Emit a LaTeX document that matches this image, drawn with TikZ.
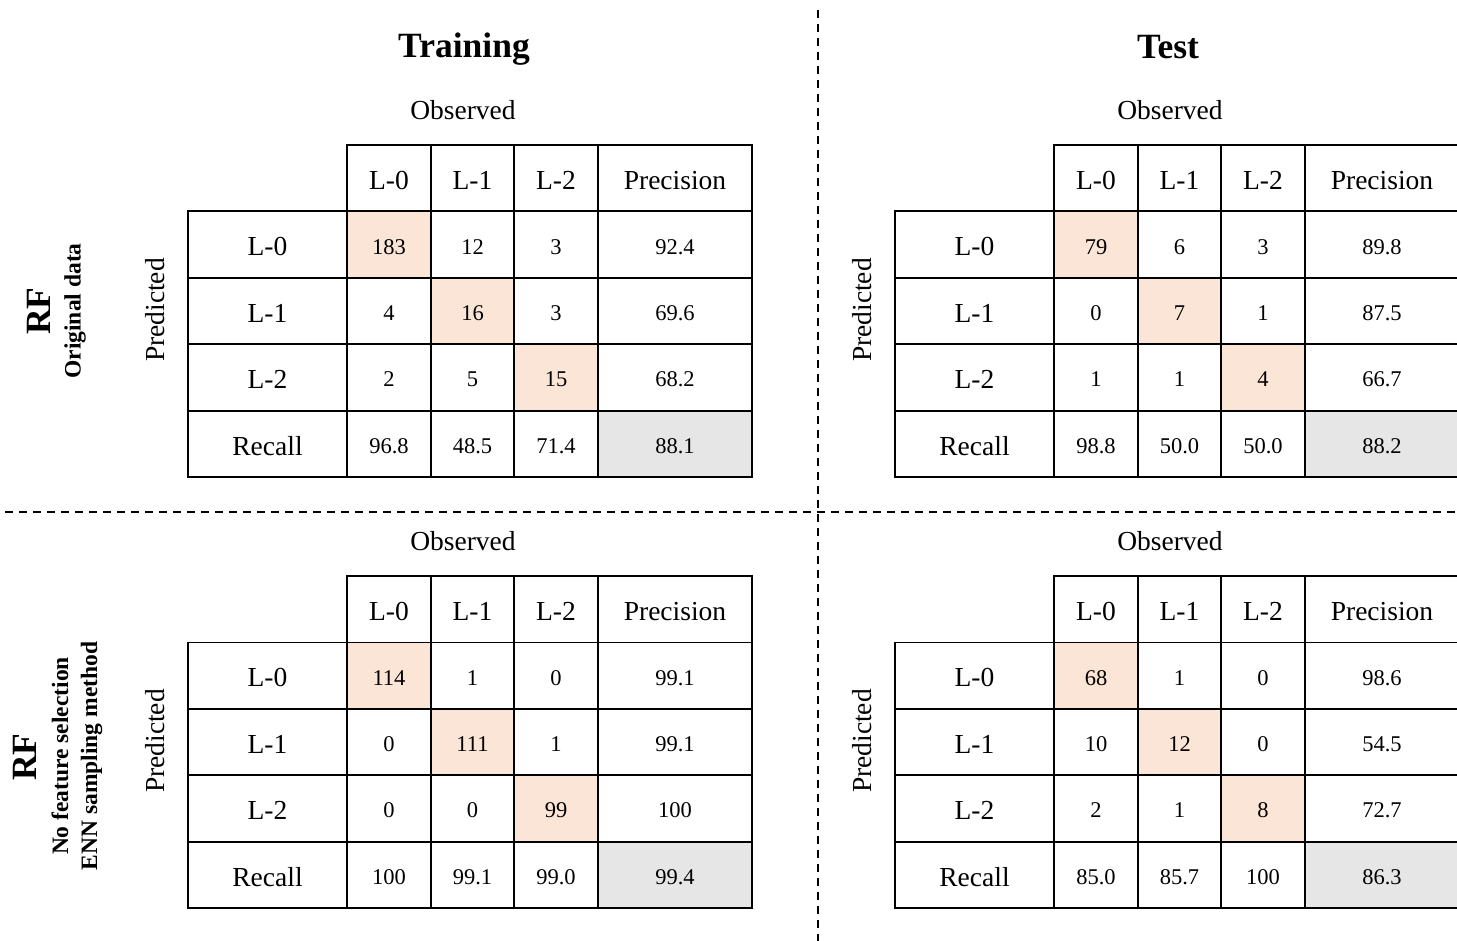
\documentclass[tikz,border=0pt]{standalone}
\usepackage{fontspec}
\setmainfont{Liberation Serif}
\definecolor{peach}{HTML}{FBE5D6}
\definecolor{grayc}{HTML}{E6E6E6}
\tikzset{
  cellbox/.style={draw=black, line width=1.8pt, inner sep=0pt, minimum height=66.4pt,
    text height=19pt, text depth=0pt,
    font=\fontsize{22.5}{26}\selectfont, anchor=center},
  headbox/.style={cellbox, text height=22.5pt, font=\fontsize{27.5}{32}\selectfont},
  lab/.style={inner sep=0pt, font=\fontsize{27.5}{32}\selectfont},
  titlelab/.style={inner sep=0pt, font=\fontsize{35.5}{40}\selectfont\bfseries},
  sublab/.style={inner sep=0pt, align=center, font=\fontsize{23.5}{29}\selectfont\bfseries},
  sepline/.style={dash pattern=on 8pt off 6pt, line width=2.2pt, black}
}
\newcommand\cmtab[4]{%
  \foreach \h/\cx/\w [count=\j] in {L-0/201/84,L-1/284.5/83,L-2/368/84,Precision/487/154}{
    \node[headbox, minimum width=\w pt] (#3-0-\j) at (#1+\cx, #2+33.2) {\h};
  }
  \foreach \lab/\va/\vb/\vc/\vd [count=\i] in {#4}{
    \node[headbox, minimum width=159pt] (#3-\i-0) at (#1+79.5, #2+66.4*\i+33.2) {\lab};
    \foreach \v/\cx/\w [count=\j] in {\va/201/84,\vb/284.5/83,\vc/368/84,\vd/487/154}{
      \ifnum\i=\j \ifnum\i=4 \def\fc{grayc}\else\def\fc{peach}\fi\else\def\fc{none}\fi
      \node[cellbox, fill=\fc, minimum width=\w pt] (#3-\i-\j) at (#1+\cx, #2+66.4*\i+33.2) {\v};
    }
  }
  \node[lab] (#3-obs) at (#1+275, #2-35) {Observed};
  \node[lab, rotate=90] (#3-pred) at (#1-33, #2+165) {Predicted};
}
\begin{document}
\begin{tikzpicture}[x=1pt, y=-1pt]
\fill[white] (0,0) rectangle (1457,941);
\useasboundingbox (0,0) rectangle (1457,941);
\draw[sepline] (818,10) -- (818,941);
\draw[sepline] (5,512) -- (1457,512);
\node[titlelab] (ttrain) at (464,49) {Training};
\node[titlelab] (ttest) at (1168,47) {Test};
\node[titlelab, rotate=90] (rf1) at (39,311) {RF};
\node[sublab, rotate=90] (sub1) at (75,311) {Original data};
\node[titlelab, rotate=90] (rf2) at (25,757) {RF};
\node[sublab, rotate=90] (sub2) at (77,756) {No feature selection\\ENN sampling method};
\cmtab{188}{145}{tra}{L-0/183/12/3/92.4,L-1/4/16/3/69.6,L-2/2/5/15/68.2,Recall/96.8/48.5/71.4/88.1}
\cmtab{895}{145}{tea}{L-0/79/6/3/89.8,L-1/0/7/1/87.5,L-2/1/1/4/66.7,Recall/98.8/50.0/50.0/88.2}
\cmtab{188}{576}{trb}{L-0/114/1/0/99.1,L-1/0/111/1/99.1,L-2/0/0/99/100,Recall/100/99.1/99.0/99.4}
\cmtab{895}{576}{teb}{L-0/68/1/0/98.6,L-1/10/12/0/54.5,L-2/2/1/8/72.7,Recall/85.0/85.7/100/86.3}
\end{tikzpicture}
\end{document}
